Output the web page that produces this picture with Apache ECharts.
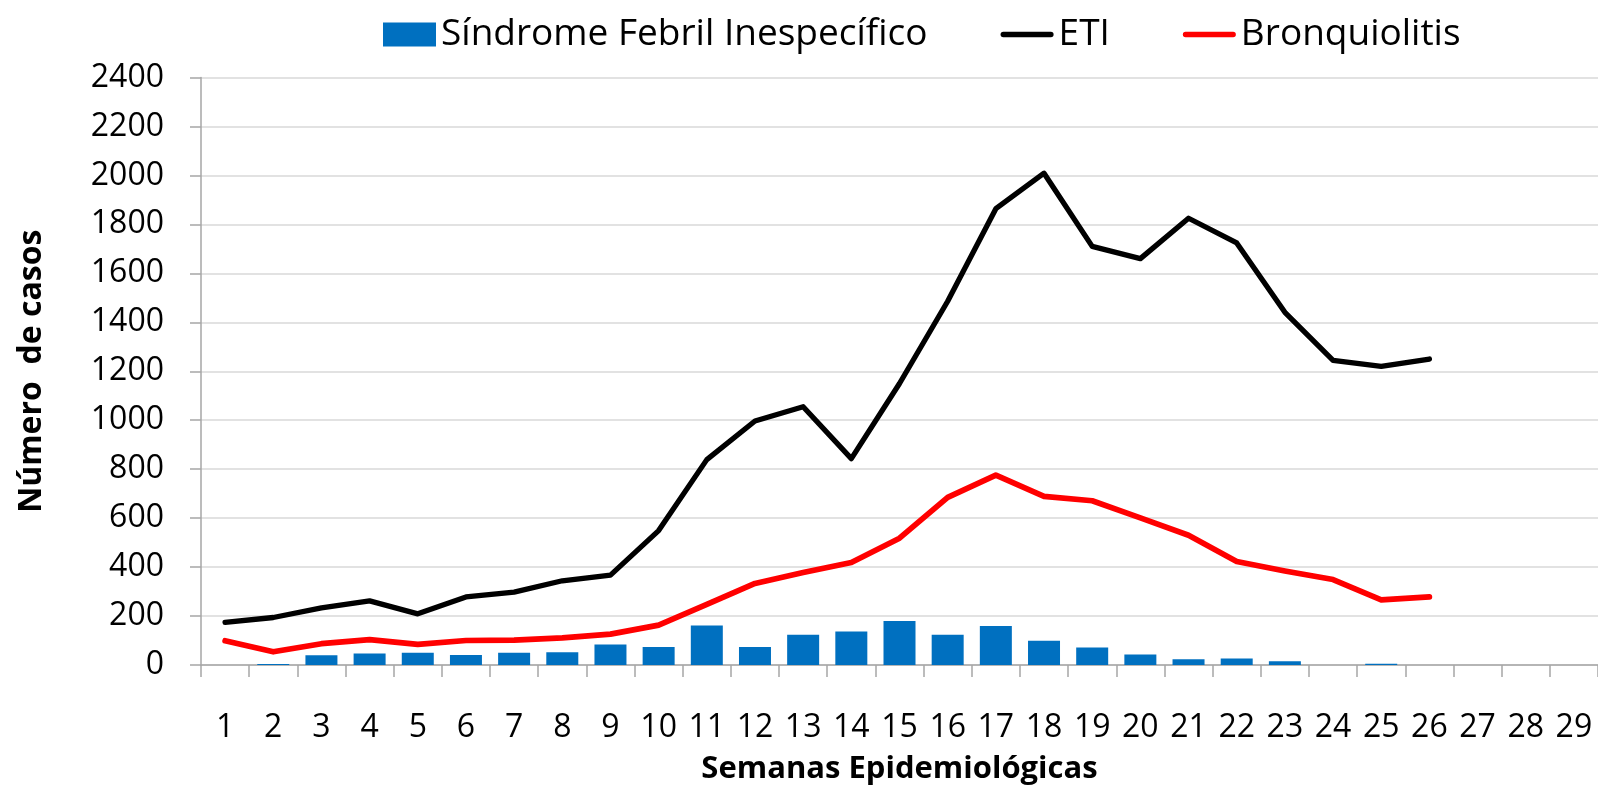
<!DOCTYPE html>
<html>
<head>
<meta charset="utf-8">
<script src="https://cdn.jsdelivr.net/npm/echarts@6/dist/echarts.min.js"></script>
<style>html,body{margin:0;padding:0;background:#fff}#c{width:1598px;height:790px}</style>
</head>
<body>
<div id="c"></div>
<script>
const weeks = ['1','2','3','4','5','6','7','8','9','10','11','12','13','14','15','16','17','18','19','20','21','22','23','24','25','26','27','28','29'];
const yTicks = { min: 0, max: 2400, interval: 200 };
const sindromeFebril = [0, 4, 40, 47, 50, 41, 50, 52, 84, 74, 161, 74, 124, 137, 180, 124, 159, 99, 72, 43, 23, 27, 15, 0, 5, 0, null, null, null];
const eti = [174, 194, 233, 262, 209, 278, 298, 344, 367, 549, 839, 997, 1055, 843, 1150, 1486, 1864, 2009, 1710, 1660, 1825, 1724, 1441, 1244, 1220, 1250];
const bronquiolitis = [99, 54, 87, 104, 84, 100, 102, 111, 126, 163, 248, 333, 378, 419, 518, 685, 776, 689, 671, 601, 530, 423, 384, 349, 266, 278];

const FONT = 'Open Sans';
const LINE_ICON = 'path://M0,0M53,24M2.7,9.3L50.3,9.3A2.7,2.7,0,0,1,50.3,14.7L2.7,14.7A2.7,2.7,0,0,1,2.7,9.3Z';
const chart = echarts.init(document.getElementById('c'), null, { renderer: 'canvas' });
chart.setOption({
  animation: false,
  backgroundColor: '#ffffff',
  textStyle: { fontFamily: FONT },
  legend: {
    left: 378, top: 11,
    itemWidth: 53, itemHeight: 24, itemGap: 73,
    symbolKeepAspect: true,
    textStyle: { fontFamily: FONT, fontSize: 37, color: '#000' },
    data: [
      { name: 'Síndrome Febril Inespecífico', icon: 'rect' },
      { name: 'ETI', icon: LINE_ICON },
      { name: 'Bronquiolitis', icon: LINE_ICON }
    ]
  },
  grid: { left: 201, top: 77.5, width: 1406, height: 596, containLabel: false },
  xAxis: {
    type: 'category',
    data: weeks,
    boundaryGap: true,
    name: 'Semanas Epidemiológicas',
    nameLocation: 'middle',
    nameGap: 89,
    nameTextStyle: { fontFamily: FONT, fontSize: 31, fontWeight: 'bold', color: '#000' },
    axisLine: { lineStyle: { color: '#a6a6a6', width: 1.5 } },
    axisTick: { show: true, length: 12, lineStyle: { color: '#a6a6a6', width: 1.5 } },
    axisLabel: { margin: 47, fontFamily: FONT, fontSize: 32, color: '#000', interval: 0 },
    splitLine: { show: false }
  },
  yAxis: {
    type: 'value',
    min: yTicks.min, max: yTicks.max, interval: yTicks.interval,
    name: 'Número  de casos',
    nameLocation: 'middle',
    nameGap: 153,
    nameRotate: 90,
    nameTextStyle: { fontFamily: FONT, fontSize: 32, fontWeight: 'bold', color: '#000' },
    axisLine: { show: true, lineStyle: { color: '#a6a6a6', width: 1.5 } },
    axisTick: { show: true, length: 11, lineStyle: { color: '#a6a6a6', width: 1.5 } },
    axisLabel: { margin: 37, fontFamily: FONT, fontSize: 32, color: '#000', formatter: function (v) { return String(v); } },
    splitLine: { show: true, lineStyle: { color: '#d9d9d9', width: 1.5 } }
  },
  series: [
    {
      name: 'Síndrome Febril Inespecífico', type: 'bar', data: sindromeFebril,
      barWidth: 32,
      itemStyle: { color: '#0070C0' }
    },
    {
      name: 'ETI', type: 'line', data: eti, symbol: 'none',
      lineStyle: { color: '#000000', width: 5.3, cap: 'round', join: 'round' },
      itemStyle: { color: '#000000' }
    },
    {
      name: 'Bronquiolitis', type: 'line', data: bronquiolitis, symbol: 'none',
      lineStyle: { color: '#FF0000', width: 5.7, cap: 'round', join: 'round' },
      itemStyle: { color: '#FF0000' }
    }
  ]
});
</script>
</body>
</html>
